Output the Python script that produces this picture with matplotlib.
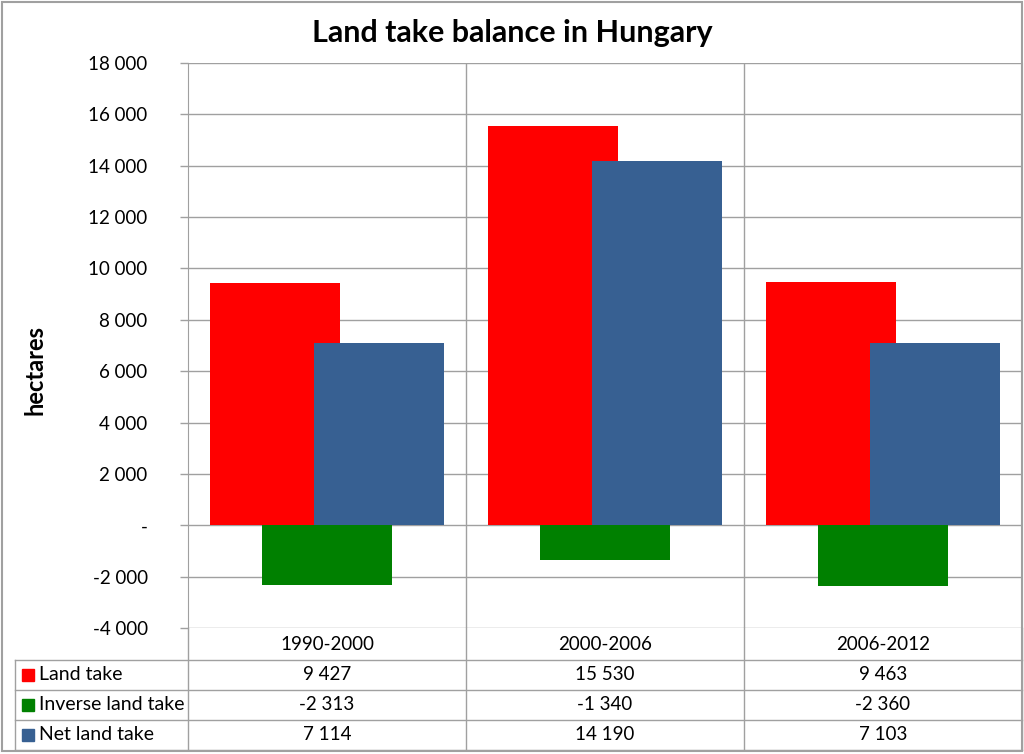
import matplotlib
matplotlib.use("Agg")
import matplotlib.pyplot as plt
from matplotlib.lines import Line2D
from matplotlib.patches import Rectangle
from matplotlib.transforms import blended_transform_factory

plt.rcParams['font.family'] = ['Lato', 'DejaVu Sans']

# data
categories = ['1990-2000', '2000-2006', '2006-2012']
series_names = ['Land take', 'Inverse land take', 'Net land take']
land_take = [9427, 15530, 9463]
inverse_land_take = [-2313, -1340, -2360]
net_land_take = [7114, 14190, 7103]
colors = ['#ff0000', '#008000', '#376092']

W, H = 1024, 754
fig = plt.figure(figsize=(W / 100, H / 100), dpi=100)


def fx(x):
    return x / W


def fy(y):
    return 1 - y / H


ax = fig.add_axes([fx(188), fy(628), fx(1022) - fx(188), fy(63) - fy(628)])

width = 0.468
offsets = [-0.187, 0.0, 0.187]
xs = range(len(categories))
all_series = [land_take, inverse_land_take, net_land_take]
# draw order: red, green, blue (blue on top of red)
for vals, off, col in zip(all_series, offsets, colors):
    ax.bar([x + off for x in xs], vals, width=width, color=col, zorder=3)

ax.set_xlim(-0.5, 2.5)
ax.set_ylim(-4000, 18000)
yticks = list(range(-4000, 18001, 2000))
ax.set_yticks(yticks)


def fmt(v):
    if v == 0:
        return '-'
    s = f"{abs(v):,}".replace(',', ' ')
    return ('-' if v < 0 else '') + s


ax.set_yticklabels([fmt(v) for v in yticks], fontsize=13.5)
ax.tick_params(axis='y', length=6, width=1, color='#a0a0a0', pad=23)
ax.tick_params(axis='x', length=0, labelbottom=False)
ax.grid(axis='y', color='#a0a0a0', linewidth=1, zorder=0)
for x in [0.5, 1.5]:
    ax.axvline(x, color='#a0a0a0', linewidth=1, zorder=0)
for s in ['top', 'bottom']:
    ax.spines[s].set_visible(False)
ax.spines['left'].set_color('#a0a0a0')
ax.spines['right'].set_color('#a0a0a0')

fig.text(fx(35), fy(370), 'hectares', rotation=90, fontsize=17, fontweight='bold',
         ha='center', va='center')

fig.text(0.5, fy(33), 'Land take balance in Hungary', fontsize=22, fontweight='bold',
         ha='center', va='center')

# data table
grid_c = '#a0a0a0'
tr = blended_transform_factory(ax.transData, fig.transFigure)
row_y = [660, 690, 720, 750]
for y in row_y:
    fig.add_artist(Line2D([fx(15), fx(1022)], [fy(y), fy(y)], color=grid_c, lw=1))
for x in [188, 466, 744, 1022]:
    fig.add_artist(Line2D([fx(x), fx(x)], [fy(628), fy(750)], color=grid_c, lw=1))
fig.add_artist(Line2D([fx(15), fx(15)], [fy(660), fy(750)], color=grid_c, lw=1))

for i, c in enumerate(categories):
    ax.text(i, fy(645), c, transform=tr, ha='center', va='center', fontsize=13.5)

for r, (name, vals, col) in enumerate(zip(series_names, all_series, colors)):
    yc = (row_y[r] + row_y[r + 1]) / 2
    fig.add_artist(Rectangle((fx(22), fy(yc + 6)), fx(12), fy(yc - 6) - fy(yc + 6),
                             color=col, transform=fig.transFigure))
    fig.text(fx(39), fy(yc), name, fontsize=14, ha='left', va='center')
    for i, v in enumerate(vals):
        ax.text(i, fy(yc), fmt(v), transform=tr, ha='center', va='center', fontsize=13.5)

# outer border
fig.add_artist(Rectangle((fx(2), fy(751)), fx(1020), fy(2) - fy(751), fill=False,
                         edgecolor='#a0a0a0', lw=1.5, transform=fig.transFigure))

fig.savefig('out.png', dpi=100)
